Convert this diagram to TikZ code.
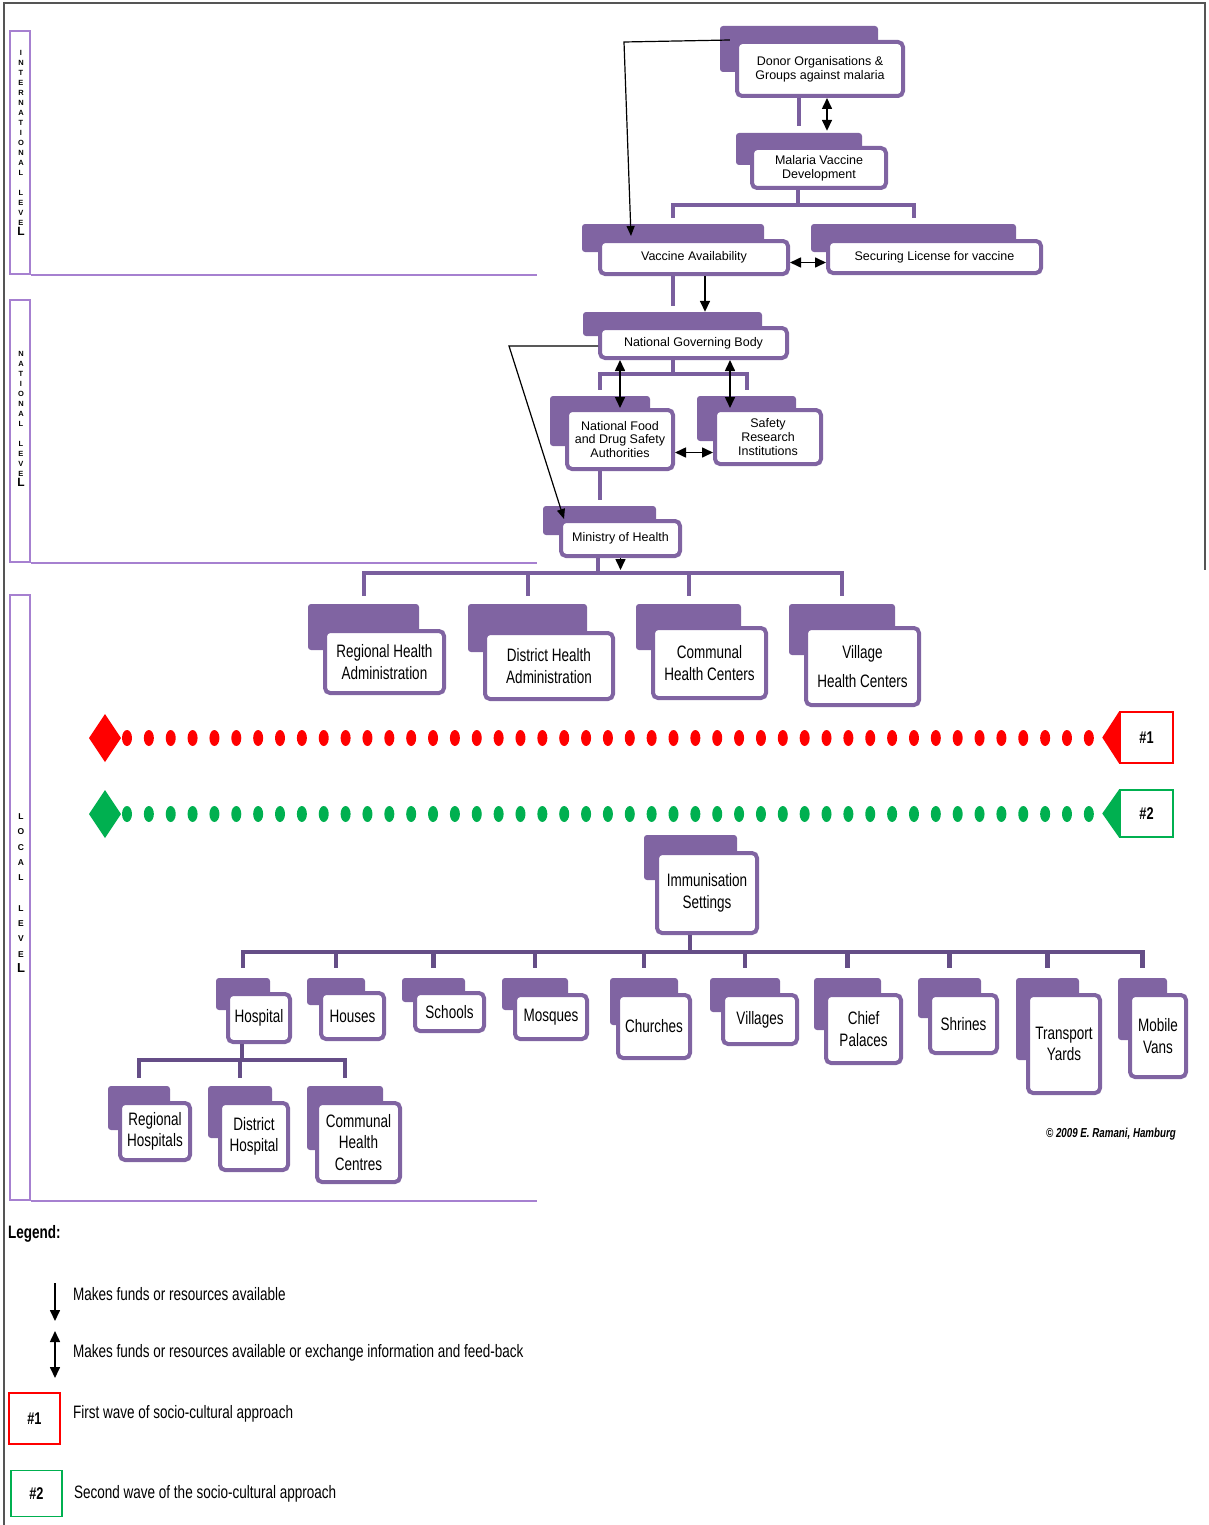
\documentclass[tikz,border=0pt]{standalone}
\usepackage{fontspec}
\setmainfont{Liberation Sans}
\newfontfamily\narf[FakeStretch=0.75]{Liberation Sans}
\usetikzlibrary{arrows.meta,fit,calc}
\definecolor{pback}{HTML}{8064A2}
\definecolor{pline}{HTML}{7A5F9E}
\definecolor{pdark}{HTML}{654E87}
\definecolor{plevel}{HTML}{A680D0}
\definecolor{wgreen}{HTML}{00B050}
\definecolor{wred}{HTML}{FF0000}
\definecolor{frame}{HTML}{555555}
\tikzset{
 backbox/.style={fill=pback, rounded corners=3pt, inner sep=0pt, draw=none},
 frontbox/.style={draw=pback, line width=4pt, fill=white, rounded corners=5pt, inner sep=0pt},
 boxtext/.style={align=center, inner sep=0pt, text=black},
 topfont/.style={font=\fontsize{12.5}{13.8}\selectfont},
 locfont/.style={font=\narf\fontsize{18}{21.5}\selectfont},
 conn/.style={draw=pline, line width=4pt},
 darkconn/.style={draw=pdark, line width=4.5pt},
 arr/.style={line width=1.6pt, -{Triangle[length=11pt,width=10pt]}},
 darr/.style={line width=1.6pt, {Triangle[length=11pt,width=10pt]}-{Triangle[length=11pt,width=10pt]}},
 fbarrow/.style={line width=1.2pt, -{Triangle[length=10pt,width=8pt]}},
 lvlbox/.style={draw=plevel, line width=1.5pt, inner sep=0pt},
 lvlline/.style={draw=plevel, line width=1.5pt},
 lvltxt/.style={align=center, inner sep=0pt, font=\bfseries\fontsize{7.5}{10}\selectfont},
 legtxt/.style={anchor=west, inner sep=0pt, font=\narf\fontsize{18}{20}\selectfont},
 wavebox/.style={line width=1.5pt, fill=white, minimum width=53pt, inner sep=0pt, font=\narf\bfseries\fontsize{17}{18}\selectfont},
}
\newcommand\obox[5]{\node[backbox,fit={#2}] (#1-b) {}; \node[frontbox,fit={#3}] (#1) {}; \node[boxtext,#4] (#1-t) at (#1.center) {#5};}
\begin{document}
\begin{tikzpicture}[x=1pt,y=-1pt]
\useasboundingbox (0,0) rectangle (1208,1525);
% outer frame
\draw[frame, line width=2pt] (4,1525) -- (4,3) -- (1205,3) -- (1205,570);

% level boxes
\node[lvlbox, fit={(10,31) (30,274)}] (intbox) {};
\draw[lvlline] (intbox.south east) -- ++(506,0);
\node[lvltxt] (inttxt) at (21,143) {I\\N\\T\\E\\R\\N\\A\\T\\I\\O\\N\\A\\L\\[10pt]L\\E\\V\\E\\{\fontsize{12}{10}\selectfont L}};
\node[lvlbox, fit={(10,300) (30,562)}] (natbox) {};
\draw[lvlline] (natbox.south east) -- ++(506,0);
\node[lvltxt] (nattxt) at (21,419) {N\\A\\T\\I\\O\\N\\A\\L\\[10pt]L\\E\\V\\E\\{\fontsize{12}{10}\selectfont L}};
\node[lvlbox, fit={(10,595) (30,1200)}] (locbox) {};
\draw[lvlline] (locbox.south east) -- ++(506,0);
\node[lvltxt, font=\bfseries\fontsize{8.5}{15.3}\selectfont] (loctxt) at (21,893) {L\\O\\C\\A\\L\\[15.3pt]L\\E\\V\\E\\{\fontsize{13}{15.3}\selectfont L}};

% international / national boxes
\obox{donor}{(720,26) (878,72)}{(737,42) (903,96)}{topfont}{Donor Organisations \&\\Groups against malaria}
\obox{mvd}{(736,133) (862,165)}{(752,148) (886,188)}{topfont}{Malaria Vaccine\\Development}
\obox{va}{(582,224) (764,252)}{(600,241) (788,274)}{topfont}{Vaccine Availability}
\obox{sl}{(811,224) (1016,252)}{(828,241) (1041,273)}{topfont}{Securing License for vaccine}
\obox{ngb}{(583,312) (762,336)}{(600,328) (787,358)}{topfont}{National Governing Body}
\obox{nfd}{(550,396) (650,446)}{(567,410) (673,469)}{topfont}{National Food\\and Drug Safety\\Authorities}
\obox{sri}{(697,396) (796,441)}{(715,410) (821,464)}{topfont}{Safety\\Research\\Institutions}
\obox{moh}{(543,506) (656,535)}{(561,521) (680,556)}{topfont}{Ministry of Health}

% connectors top
\coordinate (j1) at (798,205);
\coordinate (j2) at (673,374);
\coordinate (j3) at (730,374);
\coordinate (j4) at (598,573);
\coordinate (k1) at (624,42);
\coordinate (k2) at (631,236);
\coordinate (k3) at (509,346);
\draw[conn, shorten >=7pt] (donor.south -| mvd-b.north) -- (mvd-b.north);
\draw[darr, shorten >=2pt] ([xshift=7pt]donor.south) -- ([xshift=7pt]donor.south |- mvd-b.north);
\draw[conn] (mvd.south -| j1) -- (j1);
\draw[conn, shorten <=6pt, shorten >=6pt] (va-b.north) |- (j1) -| (sl-b.north);
\draw[darr] ([yshift=-5pt]va.east) -- ([yshift=-5pt]va.east -| sl.west);
\draw[conn, shorten >=6pt] (va.south -| ngb-b.north) -- (ngb-b.north);
\draw[arr] ([xshift=11pt]va.south) -- ([xshift=11pt]va.south |- ngb-b.north);
\draw[fbarrow] ([xshift=10pt]donor-b.west |- donor.north) -- (k1) -- (k2);
\draw[fbarrow] ([yshift=-3pt]ngb.west) -- (k3) -- ([xshift=5pt]moh.north west);
\draw[conn] (ngb.south -| j2) -- (j2);
\draw[conn, shorten <=6pt, shorten >=6pt] (nfd-b.north) |- (j2) -| (sri-b.north);
\draw[darr] (ngb.south -| nfd.north) -- (nfd.north);
\draw[darr] (ngb.south -| j3) -- (sri.north -| j3);
\draw[darr] ([yshift=-13pt]nfd.east) -- ([yshift=-13pt]nfd.east -| sri.west);
\draw[conn, shorten >=6pt] (nfd.south -| moh-b.north) -- (moh-b.north);

% local level admin boxes
\obox{rha}{(308,604) (419,650)}{(325,631) (444,693)}{locfont}{Regional Health\\Administration}
\obox{dha}{(468,604) (587,652)}{(485,633) (613,699)}{locfont}{District Health\\Administration}
\obox{chc}{(636,604) (741,650)}{(653,628) (766,698)}{locfont}{Communal\\Health Centers}
\obox{vhc}{(789,604) (895,655)}{(806,628) (919,705)}{locfont}{Village\\[7pt]Health Centers}
\draw[conn] (moh.south -| j4) -- (j4);
\draw[conn, shorten <=8pt, shorten >=8pt] (rha-b.north) |- (j4) -| (vhc-b.north);
\draw[conn, shorten >=8pt] (dha-b.north |- j4) -- (dha-b.north);
\draw[conn, shorten >=8pt] (chc-b.north |- j4) -- (chc-b.north);
\draw[arr, shorten >=3pt] (moh.south) -- (moh.south |- j4);

% waves
\fill[wred] (89,738) -- (105,714) -- (121,738) -- (105,762) -- cycle;
\fill[wgreen] (89,814) -- (105,790) -- (121,814) -- (105,838) -- cycle;
\foreach \i in {0,...,44}{
  \fill[wred] ({127+\i*21.86},738) ellipse (5pt and 8pt);
  \fill[wgreen] ({127+\i*21.86},814) ellipse (5pt and 8pt);
}
\node[wavebox, draw=wred, minimum height=51pt] (w1) at (1146.5,737.5) {\#1};
\fill[wred] ([xshift=-17pt]w1.west) -- (w1.north west) -- (w1.south west) -- cycle;
\node[wavebox, draw=wgreen, minimum height=47pt] (w2) at (1146.5,813.5) {\#2};
\fill[wgreen] ([xshift=-17pt]w2.west) -- (w2.north west) -- (w2.south west) -- cycle;

% immunisation settings
\obox{imm}{(644,835) (737,880)}{(657,853) (757,933)}{locfont}{Immunisation\\Settings}
\obox{hosp}{(216,978) (270,1010)}{(228,994) (290,1042)}{locfont}{Hospital}
\obox{hous}{(307,978) (365,1005)}{(321,993) (384,1039)}{locfont}{Houses}
\obox{scho}{(402,978) (465,1002)}{(415,993) (484,1031)}{locfont}{Schools}
\obox{mosq}{(502,978) (568,1010)}{(515,995) (587,1039)}{locfont}{Mosques}
\obox{chur}{(610,978) (678,1025)}{(618,995) (690,1058)}{locfont}{Churches}
\obox{vill}{(710,978) (780,1012)}{(723,995) (797,1044)}{locfont}{Villages}
\obox{chie}{(814,978) (881,1030)}{(826,995) (901,1063)}{locfont}{Chief\\Palaces}
\obox{shri}{(918,978) (981,1018)}{(930,995) (997,1053)}{locfont}{Shrines}
\obox{tran}{(1016,978) (1079,1060)}{(1028,995) (1100,1093)}{locfont}{Transport\\Yards}
\obox{mobi}{(1118,978) (1167,1040)}{(1130,995) (1186,1077)}{locfont}{Mobile\\Vans}
\coordinate (j5) at (690,952);
\draw[darkconn] (imm.south -| j5) -- (j5);
\draw[darkconn, shorten <=10pt, shorten >=10pt] (hosp-b.north) |- (j5) -| (mobi-b.north);
\foreach \n in {hous,scho,mosq,chur,vill,chie,shri,tran}{
  \draw[darkconn, shorten >=10pt] (\n-b.north |- j5) -- (\n-b.north);
}

% hospital children
\obox{rhos}{(108,1086) (170,1130)}{(120,1103) (190,1160)}{locfont}{Regional\\Hospitals}
\obox{dhos}{(208,1086) (272,1138)}{(220,1103) (288,1170)}{locfont}{District\\Hospital}
\obox{chcs}{(307,1086) (383,1150)}{(317,1103) (400,1182)}{locfont}{Communal\\Health\\Centres}
\coordinate (j6) at (242,1060);
\draw[darkconn] (hosp.south -| j6) -- (j6);
\draw[darkconn, shorten <=8pt, shorten >=8pt] (rhos-b.north) |- (j6) -| (chcs-b.north);
\draw[darkconn, shorten >=8pt] (dhos-b.north |- j6) -- (dhos-b.north);

% copyright
\node[anchor=east, inner sep=0pt, font=\narf\bfseries\itshape\fontsize{13}{14}\selectfont] (copy) at (1176,1134) {© 2009 E. Ramani, Hamburg};

% legend
\node[anchor=west, inner sep=0pt, font=\narf\bfseries\fontsize{18}{20}\selectfont] (legend) at (8,1234) {Legend:};
\coordinate (la1) at (55,1283);
\coordinate (la2) at (55,1321);
\coordinate (lb1) at (55,1331);
\coordinate (lb2) at (55,1378);
\draw[arr] (la1) -- (la2);
\draw[darr] (lb1) -- (lb2);
\node[legtxt] (l1) at (73,1294) {Makes funds or resources available};
\node[legtxt] (l2) at (73,1353) {Makes funds or resources available or exchange information and feed-back};
\node[wavebox, draw=wred, minimum width=51pt, minimum height=51pt] (lg1) at (34.5,1418.5) {\#1};
\node[legtxt] (l3) at (73,1414) {First wave of socio-cultural approach};
\node[wavebox, draw=wgreen, minimum width=51pt, minimum height=46pt] (lg2) at (36.5,1493.5) {\#2};
\node[legtxt] (l4) at (74,1494) {Second wave of the socio-cultural approach};
\end{tikzpicture}
\end{document}
